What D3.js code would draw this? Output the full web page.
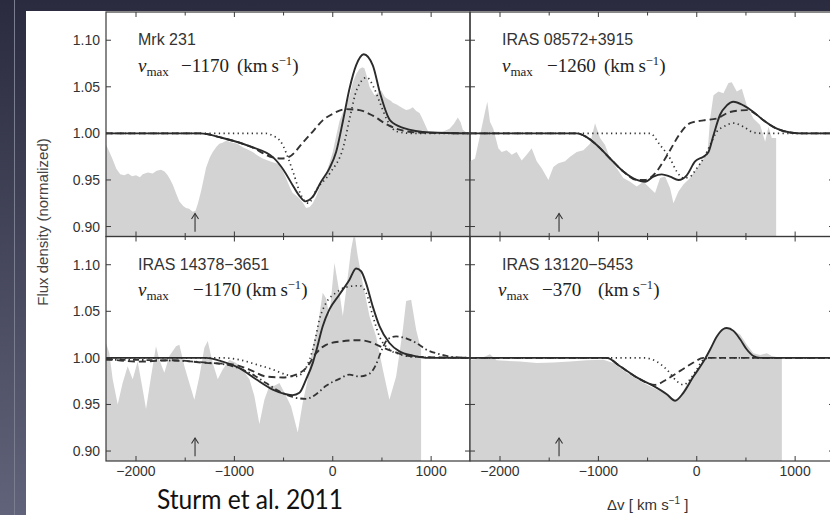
<!DOCTYPE html>
<html lang="en">
<head>
<meta charset="UTF-8">
<script src="https://d3js.org/d3.v7.min.js"></script>
<style>
  body { margin: 0; background: #fff; }
  svg { display: block; }
</style>
</head>
<body>
<script>
// ---- data: velocity (km/s) vs normalized flux ----
const panelNames = ["Mrk 231", "IRAS 08572+3915", "IRAS 14378\u22123651", "IRAS 13120\u22125453"];
const vmaxText = ["\u22121170", "\u22121260", "\u22121170", "\u2212370"];
const xTickValues = [-2000, -1500, -1000, -500, 0, 500, 1000];
const xTickLabels = ["\u22122000", "", "\u22121000", "", "0", "", "1000"];
const yTickValues = [0.90, 0.95, 1.00, 1.05, 1.10];
const yTickLabels = ["0.90", "0.95", "1.00", "1.05", "1.10"];
const arrowV = -1400;

const mrk231Obs = [[-2305,0.988],[-2270,0.980],[-2237,0.972],[-2200,0.962],[-2160,0.956],[-2120,0.955],[-2080,0.957],[-2040,0.954],[-2000,0.955],[-1960,0.953],[-1932,0.956],[-1880,0.958],[-1831,0.957],[-1790,0.960],[-1746,0.961],[-1710,0.959],[-1678,0.955],[-1650,0.950],[-1627,0.945],[-1590,0.935],[-1559,0.927],[-1520,0.922],[-1492,0.920],[-1460,0.919],[-1424,0.916],[-1395,0.917],[-1370,0.925],[-1339,0.938],[-1310,0.952],[-1288,0.963],[-1250,0.974],[-1220,0.980],[-1180,0.986],[-1153,0.989],[-1120,0.990],[-1085,0.992],[-1050,0.991],[-1017,0.990],[-970,0.989],[-915,0.985],[-870,0.983],[-814,0.980],[-760,0.976],[-712,0.973],[-660,0.971],[-610,0.969],[-575,0.968],[-542,0.966],[-510,0.960],[-475,0.952],[-440,0.943],[-407,0.936],[-370,0.933],[-339,0.930],[-300,0.925],[-271,0.920],[-235,0.921],[-203,0.925],[-170,0.932],[-136,0.941],[-100,0.950],[-68,0.957],[-34,0.968],[0,0.980],[34,0.997],[68,1.013],[100,1.022],[136,1.029],[170,1.040],[204,1.055],[240,1.064],[271,1.069],[300,1.071],[322,1.070],[350,1.060],[373,1.050],[424,1.041],[492,1.046],[530,1.039],[559,1.037],[590,1.035],[610,1.033],[650,1.031],[678,1.029],[712,1.027],[746,1.025],[780,1.026],[814,1.028],[848,1.024],[882,1.022],[910,1.016],[932,1.011],[965,1.003],[1000,1.000],[1050,0.999],[1100,1.001],[1187,1.005],[1230,1.010],[1271,1.017],[1300,1.012],[1322,1.004],[1360,1.001],[1400,1.001]];
const mrk231Total = [[-2305,1.0],[-1349,1.0],[-1119,0.995],[-841,0.986],[-603,0.974],[-502,0.961],[-400,0.943],[-339,0.933],[-281,0.927],[-203,0.932],[-119,0.948],[-34,0.9625],[34,0.980],[102,1.0125],[170,1.048],[237,1.073],[315,1.085],[407,1.073],[481,1.043],[583,1.014],[715,1.006],[990,1.001],[1400,1.0]];
const mrk231Dashed = [[-2305,1.0],[-1349,1.0],[-1119,0.995],[-841,0.986],[-603,0.974],[-520,0.973],[-440,0.975],[-305,0.990],[-203,1.002],[-102,1.014],[0,1.021],[136,1.026],[271,1.025],[407,1.019],[543,1.010],[678,1.004],[850,1.001],[1400,1.0]];
const mrk231Dotted = [[-2305,1.0],[-680,1.0],[-610,0.9975],[-535,0.992],[-400,0.9575],[-332,0.936],[-247,0.925],[-163,0.940],[-27,0.9575],[109,0.986],[176,1.018],[244,1.047],[346,1.060],[414,1.050],[481,1.0325],[549,1.015],[651,1.002],[800,1.0],[1400,1.0]];

const iras08572Obs = [[-2305,0.970],[-2254,0.973],[-2203,0.998],[-2153,1.023],[-2129,1.034],[-2102,1.0125],[-2068,1.005],[-2017,0.984],[-1983,0.980],[-1932,0.982],[-1881,0.977],[-1831,0.980],[-1780,0.971],[-1729,0.977],[-1678,0.984],[-1627,0.970],[-1576,0.9625],[-1508,0.950],[-1458,0.964],[-1407,0.968],[-1339,0.970],[-1288,0.975],[-1220,0.980],[-1153,0.982],[-1085,0.989],[-1034,1.011],[-983,0.995],[-932,0.9875],[-881,0.973],[-814,0.9625],[-746,0.952],[-678,0.948],[-610,0.943],[-542,0.948],[-475,0.941],[-424,0.936],[-373,0.952],[-322,0.9536],[-271,0.941],[-237,0.925],[-186,0.9375],[-136,0.945],[-68,0.952],[0,0.9625],[68,0.973],[108,0.977],[136,1.016],[170,1.041],[220,1.045],[271,1.043],[322,1.054],[356,1.055],[407,1.045],[458,1.048],[509,1.030],[576,1.016],[644,1.009],[695,0.991],[729,1.007],[763,0.995],[807,0.995]];
const iras08572Total = [[-2305,1.0],[-1220,1.0],[-1119,0.996],[-1017,0.9875],[-881,0.973],[-746,0.959],[-610,0.950],[-525,0.948],[-441,0.9536],[-356,0.956],[-271,0.9536],[-186,0.950],[-102,0.955],[-17,0.970],[68,0.975],[119,0.980],[170,0.998],[237,1.020],[305,1.030],[373,1.034],[475,1.030],[576,1.023],[678,1.014],[814,1.005],[949,1.001],[1085,1.0],[1400,1.0]];
const iras08572Dashed = [[-2305,1.0],[-1220,1.0],[-1119,0.996],[-1017,0.9875],[-881,0.973],[-746,0.959],[-610,0.950],[-525,0.950],[-424,0.957],[-339,0.970],[-271,0.982],[-169,1.0],[-68,1.011],[68,1.014],[204,1.016],[339,1.023],[509,1.025],[610,1.020],[678,1.014],[814,1.005],[949,1.001],[1085,1.0],[1400,1.0]];
const iras08572Dotted = [[-2305,1.0],[-475,1.0],[-373,0.9875],[-271,0.973],[-203,0.959],[-136,0.952],[-68,0.9536],[0,0.9625],[68,0.973],[136,0.9875],[204,1.002],[271,1.007],[373,1.011],[475,1.007],[576,1.001],[678,1.0],[1400,1.0]];

const iras14378Obs = [[-2305,1.016],[-2271,1.005],[-2237,0.977],[-2186,0.950],[-2136,0.973],[-2085,0.991],[-2034,0.977],[-1983,0.996],[-1932,0.966],[-1898,0.945],[-1847,0.980],[-1797,1.0125],[-1763,0.998],[-1712,0.984],[-1661,1.002],[-1593,1.0125],[-1559,1.014],[-1508,0.991],[-1458,0.973],[-1407,0.955],[-1356,0.980],[-1305,1.011],[-1271,1.018],[-1220,0.9946],[-1169,0.977],[-1119,0.9875],[-1051,0.998],[-983,0.9946],[-915,0.9875],[-847,0.977],[-797,0.959],[-746,0.929],[-695,0.955],[-644,0.970],[-593,0.970],[-542,0.973],[-491,0.9625],[-424,0.948],[-356,0.920],[-305,0.952],[-254,0.977],[-203,1.0125],[-153,1.034],[-102,1.070],[-68,1.064],[-34,1.045],[17,1.102],[68,1.070],[102,1.045],[136,1.073],[186,1.116],[220,1.135],[254,1.109],[305,1.080],[373,1.045],[441,1.023],[509,0.9875],[576,0.955],[644,0.980],[712,1.030],[746,1.061],[797,1.0625],[848,1.030],[898,1.009]];
const iras14378Total = [[-2305,1.0],[-1288,1.0],[-1119,0.996],[-949,0.989],[-780,0.977],[-610,0.966],[-475,0.961],[-407,0.960],[-339,0.9625],[-271,0.977],[-203,0.9946],[-169,1.007],[-102,1.034],[-34,1.052],[68,1.068],[170,1.084],[237,1.096],[288,1.093],[339,1.080],[407,1.055],[475,1.034],[576,1.016],[678,1.007],[814,1.0025],[983,1.0],[1400,1.0]];
const iras14378Dashed = [[-2305,0.999],[-1966,0.996],[-1627,0.9975],[-1288,0.9946],[-1017,0.993],[-847,0.9875],[-678,0.980],[-508,0.979],[-373,0.982],[-271,0.989],[-169,1.005],[-68,1.014],[68,1.0175],[271,1.019],[407,1.016],[509,1.011],[610,1.007],[746,1.0025],[915,1.001],[1400,1.0]];
const iras14378DashDot = [[-2305,0.998],[-1797,0.9975],[-1288,0.995],[-1017,0.991],[-847,0.984],[-678,0.973],[-542,0.964],[-407,0.958],[-271,0.956],[-169,0.961],[-68,0.970],[68,0.9775],[170,0.982],[271,0.980],[373,0.983],[441,0.993],[492,1.007],[559,1.020],[644,1.023],[746,1.021],[848,1.016],[949,1.009],[1085,1.004],[1220,1.001],[1400,1.0]];
const iras14378Dotted = [[-2305,1.0],[-1119,1.0],[-949,0.998],[-780,0.993],[-610,0.9875],[-475,0.982],[-390,0.980],[-305,0.984],[-237,0.998],[-186,1.016],[-136,1.041],[-68,1.059],[34,1.070],[136,1.076],[271,1.0775],[339,1.070],[407,1.045],[475,1.023],[576,1.009],[678,1.004],[814,1.001],[1400,1.0]];

const iras13120Obs = [[-2305,0.998],[-2203,0.999],[-2102,1.004],[-2034,0.9975],[-1797,0.996],[-1627,0.9946],[-1458,0.995],[-1288,0.996],[-1119,0.9975],[-949,0.998],[-847,0.9946],[-712,0.984],[-542,0.973],[-407,0.966],[-271,0.959],[-220,0.955],[-169,0.959],[-68,0.977],[34,0.991],[102,1.002],[170,1.016],[237,1.029],[305,1.031],[373,1.029],[441,1.025],[509,1.014],[576,1.005],[644,1.003],[712,1.005],[763,1.002],[865,1.0]];
const iras13120Total = [[-2305,1.0],[-915,1.0],[-780,0.991],[-610,0.979],[-441,0.970],[-305,0.961],[-220,0.954],[-136,0.9625],[-34,0.980],[68,0.996],[136,1.009],[204,1.023],[271,1.031],[305,1.032],[373,1.029],[441,1.020],[509,1.009],[576,1.002],[644,1.0],[1400,1.0]];
const iras13120Dashed = [[-2305,1.0],[-915,1.0],[-780,0.991],[-610,0.979],[-424,0.971],[-305,0.977],[-169,0.986],[-34,0.995],[68,1.0],[1400,1.0]];
const iras13120Dotted = [[-2305,1.0],[-542,1.0],[-407,0.996],[-305,0.9875],[-203,0.975],[-136,0.971],[-68,0.977],[0,0.9875],[68,0.998],[136,1.0],[1400,1.0]];

// ---- layout ----
const W = 830, H = 515;
const colX = [106, 470], rowY = [12, 236.5];
const pw = 364, ph = 224.5;
const xDomain = [-2305, 1395], yDomain = [0.8893, 1.1303];

const panels = [
  { name: panelNames[0], vmax: vmaxText[0], c: 0, r: 0, obs: mrk231Obs, total: mrk231Total, dashed: mrk231Dashed, dotted: mrk231Dotted,
    lab: { tx: 138, ty: 45, vx: 138, nx: 181, ux: 237, by: 72 } },
  { name: panelNames[1], vmax: vmaxText[1], c: 1, r: 0, obs: iras08572Obs, total: iras08572Total, dashed: iras08572Dashed, dotted: iras08572Dotted,
    lab: { tx: 502, ty: 45, vx: 502, nx: 547, ux: 604, by: 72 } },
  { name: panelNames[2], vmax: vmaxText[2], c: 0, r: 1, obs: iras14378Obs, total: iras14378Total, dashed: iras14378Dashed, dotted: iras14378Dotted, dashdot: iras14378DashDot,
    lab: { tx: 138, ty: 270, vx: 138, nx: 193, ux: 246, by: 296 } },
  { name: panelNames[3], vmax: vmaxText[3], c: 1, r: 1, obs: iras13120Obs, total: iras13120Total, dashed: iras13120Dashed, dotted: iras13120Dotted,
    lab: { tx: 502, ty: 270, vx: 498, nx: 542, ux: 598, by: 296 } }
];

const svg = d3.select("body").append("svg").attr("width", W).attr("height", H);
const defs = svg.append("defs");

// slide background
const grad = defs.append("linearGradient").attr("id", "slide").attr("x1", 0).attr("y1", 0).attr("x2", 0).attr("y2", 1);
grad.append("stop").attr("offset", "0%").attr("stop-color", "#2a2b3e");
grad.append("stop").attr("offset", "100%").attr("stop-color", "#61637a");
svg.append("rect").attr("width", W).attr("height", H).attr("fill", "url(#slide)");
svg.append("line").attr("x1", 14.5).attr("x2", 14.5).attr("y1", 0).attr("y2", H)
  .attr("stroke", "#7a7c8f").attr("stroke-width", 1);
svg.append("rect").attr("x", 26).attr("y", 11).attr("width", W - 26).attr("height", H - 11).attr("fill", "#fff");

const sans = "'Liberation Sans', Arial, Helvetica, sans-serif";
const serif = "'Liberation Serif', 'Times New Roman', serif";
const ink = "#2b2b2b";

panels.forEach((p, i) => {
  const x0 = colX[p.c], y0 = rowY[p.r];
  const x = d3.scaleLinear().domain(xDomain).range([x0, x0 + pw]);
  const y = d3.scaleLinear().domain(yDomain).range([y0 + ph, y0]);

  defs.append("clipPath").attr("id", "clip" + i)
    .append("rect").attr("x", x0).attr("y", y0).attr("width", pw).attr("height", ph);

  const g = svg.append("g");
  const plot = g.append("g").attr("clip-path", "url(#clip" + i + ")");

  // observed spectrum
  const area = d3.area().x(d => x(d[0])).y0(y0 + ph).y1(d => y(d[1]));
  plot.append("path").datum(p.obs).attr("d", area).attr("fill", "#d3d3d3");

  const line = d3.line().x(d => x(d[0])).y(d => y(d[1])).curve(d3.curveMonotoneX);
  plot.append("path").datum(p.dotted).attr("d", line).attr("fill", "none")
    .attr("stroke", "#333").attr("stroke-width", 1.7).attr("stroke-dasharray", "1.3,3.4");
  if (p.dashdot) {
    plot.append("path").datum(p.dashdot).attr("d", line).attr("fill", "none")
      .attr("stroke", "#333").attr("stroke-width", 1.8).attr("stroke-dasharray", "6,3,1.5,3");
  }
  plot.append("path").datum(p.dashed).attr("d", line).attr("fill", "none")
    .attr("stroke", "#333").attr("stroke-width", 1.9).attr("stroke-dasharray", "7,4");
  plot.append("path").datum(p.total).attr("d", line).attr("fill", "none")
    .attr("stroke", ink).attr("stroke-width", 1.9);

  // arrow at the marked velocity
  const ax = x(arrowV), aTop = y(0.914), aBot = y(0.8945);
  g.append("line").attr("x1", ax).attr("x2", ax).attr("y1", aTop).attr("y2", aBot)
    .attr("stroke", "#333").attr("stroke-width", 1.1);
  g.append("path").attr("d", `M${ax - 3.5},${aTop + 5.5}L${ax},${aTop}L${ax + 3.5},${aTop + 5.5}`)
    .attr("fill", "none").attr("stroke", "#333").attr("stroke-width", 1.1);

  // frame
  g.append("rect").attr("x", x0).attr("y", y0).attr("width", pw).attr("height", ph)
    .attr("fill", "none").attr("stroke", "#3a3a3a").attr("stroke-width", 1.2);

  // ticks (inward)
  xTickValues.forEach(v => {
    const len = v % 1000 === 0 ? 5 : 3.5;
    g.append("line").attr("x1", x(v)).attr("x2", x(v)).attr("y1", y0).attr("y2", y0 + len).attr("stroke", "#3a3a3a");
    g.append("line").attr("x1", x(v)).attr("x2", x(v)).attr("y1", y0 + ph).attr("y2", y0 + ph - len).attr("stroke", "#3a3a3a");
  });
  yTickValues.forEach(v => {
    g.append("line").attr("x1", x0).attr("x2", x0 + 5).attr("y1", y(v)).attr("y2", y(v)).attr("stroke", "#3a3a3a");
    g.append("line").attr("x1", x0 + pw).attr("x2", x0 + pw - 5).attr("y1", y(v)).attr("y2", y(v)).attr("stroke", "#3a3a3a");
  });

  // tick labels on outer edges
  if (p.c === 0) {
    yTickValues.forEach((v, k) => {
      g.append("text").attr("x", x0 - 6).attr("y", y(v) + 5).attr("text-anchor", "end")
        .attr("font-family", sans).attr("font-size", 14).attr("fill", "#333").text(yTickLabels[k]);
    });
  }
  if (p.r === 1) {
    xTickValues.forEach((v, k) => {
      if (!xTickLabels[k]) return;
      g.append("text").attr("x", x(v)).attr("y", y0 + ph + 15).attr("text-anchor", "middle")
        .attr("font-family", sans).attr("font-size", 14).attr("fill", "#333").text(xTickLabels[k]);
    });
  }

  // panel labels
  g.append("text").attr("x", p.lab.tx).attr("y", p.lab.ty)
    .attr("font-family", sans).attr("font-size", 16).attr("fill", "#333").text(p.name);
  const t = g.append("text").attr("y", p.lab.by).attr("font-family", serif).attr("font-size", 19).attr("fill", "#222");
  t.append("tspan").attr("x", p.lab.vx).attr("font-style", "italic").text("v");
  t.append("tspan").attr("font-size", 13).attr("dy", 4).text("max");
  t.append("tspan").attr("x", p.lab.nx).attr("dy", -4).text(p.vmax);
  t.append("tspan").attr("x", p.lab.ux).text("(km\u2009s");
  t.append("tspan").attr("font-size", 12.5).attr("dy", -7).text("\u22121");
  t.append("tspan").attr("dy", 7).text(")");
});

// axis titles
svg.append("text").attr("transform", "translate(48,222) rotate(-90)").attr("text-anchor", "middle")
  .attr("font-family", sans).attr("font-size", 15).attr("fill", "#444").text("Flux density (normalized)");

const xt = svg.append("text").attr("x", 607).attr("y", 510).attr("font-family", sans).attr("font-size", 15).attr("fill", "#333");
xt.append("tspan").text("\u0394v [ km s");
xt.append("tspan").attr("font-size", 10).attr("dy", -6).text("\u22121");
xt.append("tspan").attr("dy", 6).text(" ]");

svg.append("text").attr("x", 157).attr("y", 509).attr("font-family", "Lato, 'Open Sans', sans-serif")
  .attr("font-size", 26).attr("fill", "#111").attr("textLength", 186).attr("lengthAdjust", "spacingAndGlyphs")
  .text("Sturm et al. 2011");
</script>
</body>
</html>
